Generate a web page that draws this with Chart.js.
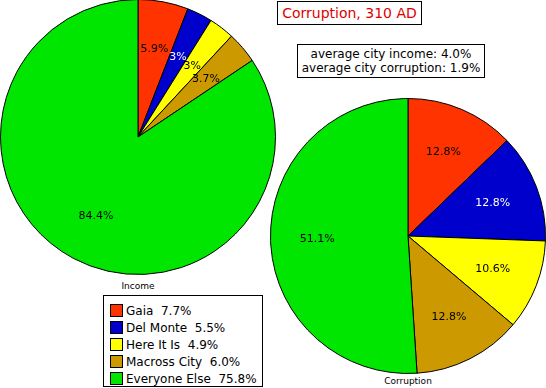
<!DOCTYPE html>
<html>
<head>
<meta charset="utf-8">
<script src="https://cdn.jsdelivr.net/npm/chart.js@4/dist/chart.umd.min.js"></script>
<style>
    body { margin: 0; background: #fff; width: 546px; height: 388px; position: relative; overflow: hidden; font-family: "DejaVu Sans", sans-serif; }
    .pie { position: absolute; }
    .box { position: absolute; border: 1px solid #000; background: #fff; box-sizing: border-box; }
    #title { left: 277px; top: 1px; width: 145px; height: 24px; color: #e00000; font-size: 14px; text-align: center; line-height: 22px; }
    #info { left: 297px; top: 44px; width: 188px; height: 34px; font-size: 12px; text-align: center; line-height: 14px; padding-top: 2px; }
    #legend { left: 103px; top: 295px; width: 160px; height: 92px; font-size: 12px; padding: 6px 0 0 6px; }
    .row { height: 17px; display: flex; align-items: center; white-space: pre; }
    .sw { width: 11px; height: 11px; border: 1px solid #000; margin-right: 3px; }
    .cap { position: absolute; font-size: 9px; width: 100px; text-align: center; }
</style>
</head>
<body>
<canvas id="incomeChart" class="pie" width="276" height="276" style="left:0px;top:-1px"></canvas>
<canvas id="corruptionChart" class="pie" width="276" height="276" style="left:270px;top:98px"></canvas>
<div id="title" class="box">Corruption, 310 AD</div>
<div id="info" class="box">average city income: 4.0%<br>average city corruption: 1.9%</div>
<div class="cap" style="left:88px;top:281px">Income</div>
<div class="cap" style="left:358px;top:376px">Corruption</div>
<div id="legend" class="box"></div>
<script>
// 데이터
const cityNames = ['Gaia', 'Del Monte', 'Here It Is', 'Macross City', 'Everyone Else'];
const incomeShares = [5.9, 3, 3, 3.7, 84.4];
const corruptionShares = [12.8, 12.8, 10.6, 12.8, 51.1];
const legendShares = [7.7, 5.5, 4.9, 6.0, 75.8];

const cityColors = ['#ff3300', '#0000cc', '#ffff00', '#cc9900', '#00e600'];
const labelColors = ['#000', '#fff', '#000', '#000', '#000'];

// 범례
const legendEl = document.getElementById('legend');
cityNames.forEach((name, i) => {
    const row = document.createElement('div');
    row.className = 'row';
    row.innerHTML = `<span class="sw" style="background:${cityColors[i]}"></span>${name}  ${legendShares[i].toFixed(1)}%`;
    legendEl.appendChild(row);
});

// 조각 안에 퍼센트 표시
const sliceLabels = {
    id: 'sliceLabels',
    afterDatasetsDraw(chart, args, opts) {
        const ctx = chart.ctx;
        const meta = chart.getDatasetMeta(0);
        ctx.save();
        ctx.font = '11px "DejaVu Sans", sans-serif';
        ctx.textAlign = 'center';
        ctx.textBaseline = 'middle';
        meta.data.forEach((arc, i) => {
            const p = arc.getProps(['x', 'y', 'startAngle', 'endAngle', 'outerRadius'], true);
            const mid = (p.startAngle + p.endAngle) / 2;
            const r = p.outerRadius * opts.ratio;
            ctx.fillStyle = labelColors[i];
            ctx.fillText(chart.data.datasets[0].data[i] + '%', p.x + Math.cos(mid) * r, p.y + Math.sin(mid) * r);
        });
        ctx.restore();
    }
};

function makePie(id, values, ratio) {
    return new Chart(document.getElementById(id), {
        type: 'pie',
        data: {
            labels: cityNames,
            datasets: [{
                data: values,
                backgroundColor: cityColors,
                borderColor: '#000',
                borderWidth: 1
            }]
        },
        options: {
            responsive: false,
            animation: false,
            devicePixelRatio: 1,
            layout: { padding: 0 },
            plugins: {
                legend: { display: false },
                tooltip: { enabled: false },
                sliceLabels: { ratio: ratio }
            }
        },
        plugins: [sliceLabels]
    });
}

makePie('incomeChart', incomeShares, 0.65);
makePie('corruptionChart', corruptionShares, 0.66);
</script>
</body>
</html>
